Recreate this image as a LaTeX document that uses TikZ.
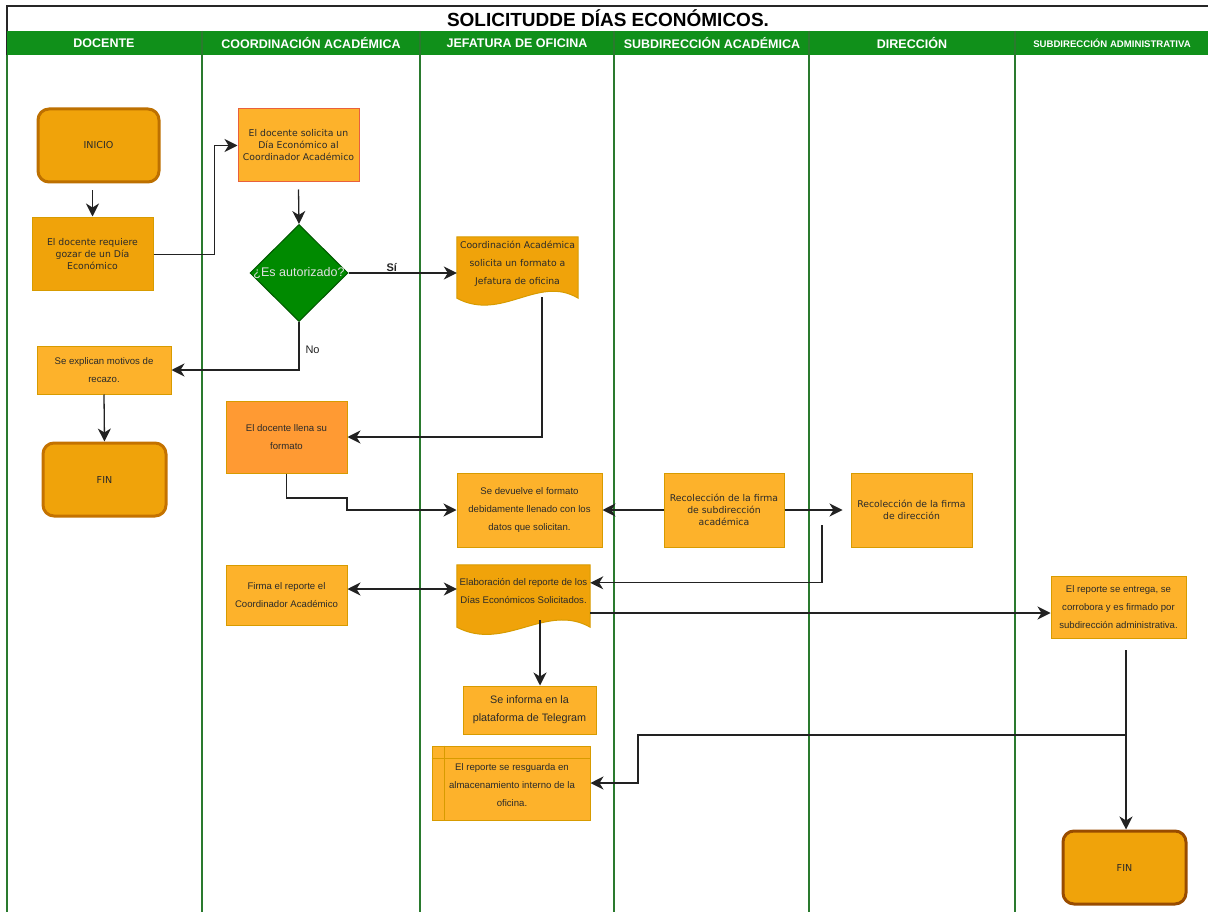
\documentclass[tikz,border=0pt]{standalone}
\usepackage{fontspec}
\setmainfont{Liberation Sans}
\newfontfamily\dejavu{DejaVu Sans}
\usetikzlibrary{arrows.meta,calc,shapes.geometric}
\definecolor{hdrgreen}{HTML}{10901A}
\definecolor{lanegreen}{HTML}{2A7A2E}
\definecolor{dmgreen}{HTML}{008A00}
\definecolor{dmstroke}{HTML}{005700}
\definecolor{dorange}{HTML}{F0A30A}
\definecolor{lorange}{HTML}{FDB22B}
\definecolor{morange}{HTML}{FF9A33}
\definecolor{ostroke}{HTML}{D79B00}
\definecolor{redstroke}{HTML}{E8603C}
\definecolor{termstroke}{HTML}{BD7000}
\definecolor{termstroke2}{HTML}{994C00}
\definecolor{txt}{HTML}{2A2A2A}
\definecolor{linec}{HTML}{222222}
\begin{document}
\begin{tikzpicture}[x=1pt,y=-1pt,
  box/.style={rectangle, draw=ostroke, fill=lorange, line width=1pt, align=center, text=txt, inner sep=1pt},
  arialS/.style={font=\fontsize{9.6}{18}\selectfont},
  dvS/.style={font=\dejavu\fontsize{9.3}{12}\selectfont},
  dvL/.style={font=\dejavu\fontsize{9.3}{18}\selectfont},
  term/.style={rectangle, rounded corners=11pt, draw=termstroke, line width=3pt, fill=dorange, text=txt, font=\dejavu\fontsize{9.6}{10}\selectfont},
  hdr/.style={text=white, font=\bfseries\fontsize{12.5}{14}\selectfont},
  lane/.style={draw=lanegreen, line width=1.1pt},
  arr/.style={draw=linec, line width=1.3pt, -{Stealth[length=13pt,width=13pt,inset=4pt]}},
  biarr/.style={draw=linec, line width=1.3pt, {Stealth[length=13pt,width=13pt,inset=4pt]}-{Stealth[length=13pt,width=13pt,inset=4pt]}},
  lbl/.style={text=linec, font=\fontsize{11}{12}\selectfont}
]
\useasboundingbox (0,0) rectangle (1208,912);
\fill[white] (0,0) rectangle (1208,912);

% frame, title, header
\draw[line width=1.5pt, draw=black!85] (7,6) rectangle (1215,920);
\fill[hdrgreen] (7,31) rectangle (1215,55);
\node[font=\bfseries\fontsize{19}{20}\selectfont] (title) at (608,18.5) {SOLICITUDDE DÍAS ECONÓMICOS.};

\foreach \x in {202,420,614,809,1015}{ \draw[lane] (\x,31) -- (\x,915); }
\draw[lane] (7,55) -- (7,915);

\node[hdr] (h1) at (104,43) {DOCENTE};
\node[hdr] (h2) at (311,43) {COORDINACIÓN ACADÉMICA};
\node[hdr] (h3) at (517,43) {JEFATURA DE OFICINA};
\node[hdr] (h4) at (712,43) {SUBDIRECCIÓN ACADÉMICA};
\node[hdr] (h5) at (912,43) {DIRECCIÓN};
\node[hdr, font=\bfseries\fontsize{9.6}{12}\selectfont] (h6) at (1112,43) {SUBDIRECCIÓN ADMINISTRATIVA};

% nodes
\node[term, minimum width=121, minimum height=73] (inicio) at (98.5,145.5) {INICIO};
\node[box, dvS, fill=dorange, minimum width=121, minimum height=73] (n2) at (92.5,254.5) {El docente requiere\\gozar de un Día\\Económico};
\node[box, dvS, draw=redstroke, minimum width=121, minimum height=73] (n3) at (298.5,145.5) {El docente solicita un\\Día Económico al\\Coordinador Académico};

\node[diamond, draw=dmstroke, fill=dmgreen, line width=1pt, minimum width=98, minimum height=97, inner sep=0pt] (dm) at (299,273) {};
\node[text=white!88!black, font=\fontsize{12.5}{14}\selectfont] (dmt) at (dm.center) {¿Es autorizado?};

% document shape 1
\node[rectangle, minimum width=121, minimum height=53, inner sep=0pt] (d5) at (517.5,263.5) {};
\draw[fill=dorange, draw=ostroke, line width=1pt]
  (d5.north west) -- (d5.north east) -- ($(d5.south east)+(0,8)$)
  .. controls ($(d5.south east)+(-40,-16)$) and ($(d5.south west)+(45,32)$) .. ($(d5.south west)+(0,8)$) -- cycle;
\node[dvL, text=txt, align=center] (d5t) at (d5.center) {Coordinación Académica\\solicita un formato a\\Jefatura de oficina};

\node[box, arialS, minimum width=134, minimum height=48] (n6) at (104,370) {Se explican motivos de\\recazo.};
\node[term, draw=termstroke!90!orange, minimum width=123, minimum height=73] (fin1) at (104.5,479.5) {FIN};

\node[box, arialS, fill=morange, minimum width=121, minimum height=72] (n8) at (286.5,437) {El docente llena su\\formato};
\node[box, arialS, minimum width=145, minimum height=74] (n9) at (529.5,510) {Se devuelve el formato\\debidamente llenado con los\\datos que solicitan.};
\node[box, dvS, minimum width=120, minimum height=74] (n10) at (724,510) {Recolección de la firma\\de subdirección\\académica};
\node[box, dvS, minimum width=121, minimum height=74] (n11) at (911.5,510) {Recolección de la firma\\de dirección};
\node[box, arialS, minimum width=121, minimum height=60] (n12) at (286.5,595) {Firma el reporte el\\Coordinador Académico};

% document shape 2
\node[rectangle, minimum width=133, minimum height=53, inner sep=0pt] (d13) at (523.5,591.5) {};
\draw[fill=dorange, draw=ostroke, line width=1pt]
  (d13.north west) -- (d13.north east) -- ($(d13.south east)+(0,9)$)
  .. controls ($(d13.south east)+(-44,-16)$) and ($(d13.south west)+(48,34)$) .. ($(d13.south west)+(0,9)$) -- cycle;
\node[arialS, text=txt, align=center] (d13t) at (d13.center) {Elaboración del reporte de los\\Días Económicos Solicitados.};

\node[box, font=\fontsize{10.8}{18}\selectfont, minimum width=133, minimum height=48] (n14) at (529.5,710) {Se informa en la\\plataforma de Telegram};

\node[box, minimum width=158, minimum height=74] (n15) at (511,783) {};
\draw[draw=ostroke, line width=1pt] (n15.north west) ++(13,0) -- ++(0,74);
\draw[draw=ostroke, line width=1pt] (n15.north west) ++(0,13) -- ++(158,0);
\node[arialS, text=txt, align=center] (n15t) at (512,785) {El reporte se resguarda en\\almacenamiento interno de la\\oficina.};

\node[box, arialS, minimum width=135, minimum height=62] (n16) at (1118.5,607) {El reporte se entrega, se\\corrobora y es firmado por\\subdirección administrativa.};
\node[term, draw=termstroke2, minimum width=123, minimum height=73] (fin2) at (1124.5,867.5) {FIN};

% connectors
\draw[arr] ($(inicio.south)+(-6,7)$) -- ($(n2.north)+(0,-1)$);
\draw[arr] (n2.east) -- ++(61,0) |- (n3.west);
\draw[arr] ($(n3.south)+(0,7)$) -- (dm.north);
\draw[arr] (dm.east) -- (d5.west |- dm.east) node[pos=0.4, above, font=\bfseries\fontsize{11}{12}\selectfont, text=linec, inner sep=1pt] (si) {Sí};
\draw[arr] (dm.south) |- (n6.east);
\node[lbl, anchor=west] (no) at (302,350) {No};
\draw[arr] (n6.south) -- (fin1.north);

\coordinate (d5b) at (542,297);
\draw[arr] (d5b) |- (n8.east);
\draw[arr] (n8.south) |- (347,498) |- (n9.west);
\draw[arr] (n10.west) -- (n9.east);
\draw[arr, shorten >=8pt] (n10.east) -- (n11.west);

\coordinate (c822) at (822,525);
\draw[arr] (c822) |- ($(d13.north east)+(0,18)$);
\coordinate (p589) at ($(n12.east)+(0,-6)$);
\draw[biarr] (p589) -- (p589 -| d13.west);
\coordinate (p613) at ($(d13.east)+(0,21.5)$);
\draw[arr] (p613) -- (p613 -| n16.west);
\coordinate (d13b) at (540,620);
\draw[arr] (d13b) -- (d13b |- n14.north);

\coordinate (c1126) at (1126,650);
\draw[arr] (c1126) -- (c1126 |- fin2.north);
\coordinate (j735) at (1126,735);
\coordinate (k735) at (638,735);
\draw[arr] (j735) -- (k735) |- (n15.east);
\end{tikzpicture}
\end{document}
